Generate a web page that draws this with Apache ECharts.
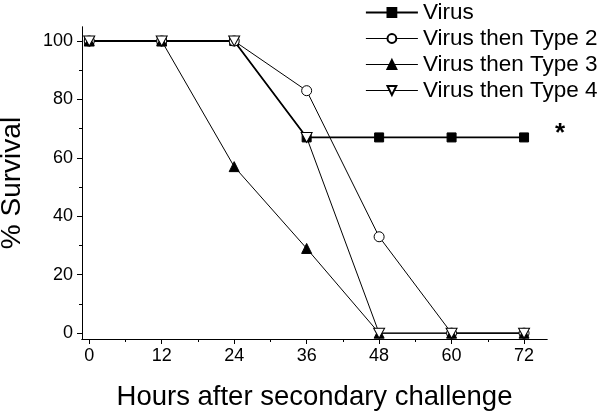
<!DOCTYPE html>
<html>
<head>
<meta charset="utf-8">
<script src="https://cdn.jsdelivr.net/npm/echarts@6/dist/echarts.min.js"></script>
<style>
  html, body { margin: 0; padding: 0; background: #fff; }
  #chart { width: 602px; height: 413px; }
</style>
</head>
<body>
<div id="chart"></div>
<script>
// Survival data
const hours = [0, 12, 24, 36, 48, 60, 72];
const virus = [100, 100, 100, 67, 67, 67, 67];
const virusType2 = [100, 100, 100, 83, 33, 0, 0];
const virusType3 = [100, 100, 57, 29, 0, 0, 0];
const virusType4 = [100, 100, 100, 67, 0, 0, 0];
const seriesNames = ["Virus", "Virus then Type 2", "Virus then Type 3", "Virus then Type 4"];
const lineWidths = [1.8, 1, 1, 1];
const xMajor = [0, 12, 24, 36, 48, 60, 72];
const xMinor = [6, 18, 30, 42, 54, 66];
const yMajor = [0, 20, 40, 60, 80, 100];
const yMinor = [10, 30, 50, 70, 90];

const fontFamily = "Liberation Sans, Arial, sans-serif";
const triDown = "path://M0,0 L10,0 L5,9 Z";

function pairs(values) {
	return hours.map((h, i) => [h, values[i]]);
}

function lineSeries(idx, values, symbol, fill, extra) {
	return Object.assign({
		name: seriesNames[idx],
		type: "line",
		data: pairs(values),
		symbol: symbol,
		symbolSize: 10,
		showAllSymbol: true,
		lineStyle: { color: "#000", width: lineWidths[idx] },
		itemStyle: { color: fill, borderColor: "#000", borderWidth: 1 },
		emphasis: { disabled: true },
		z: 3,
	}, extra || {});
}

function axisCommon(min, max) {
	return {
		type: "value",
		min: min,
		max: max,
		splitLine: { show: false },
		axisLine: { show: true, onZero: false, lineStyle: { color: "#000", width: 1 } },
	};
}

const chartDom = document.getElementById("chart");
const myChart = echarts.init(chartDom);

const option = {
	animation: false,
	backgroundColor: "#fff",
	textStyle: { fontFamily: fontFamily, color: "#000" },
	grid: { left: 82, right: 55, top: 27, bottom: 74, outerBoundsMode: "none", containLabel: false },
	legend: {
		orient: "vertical",
		left: 360,
		top: -4,
		itemWidth: 52,
		itemHeight: 11,
		itemGap: 3,
		textStyle: { fontSize: 22.5, color: "#000", fontFamily: fontFamily },
		data: seriesNames.map((n, i) => ({ name: n, lineStyle: { width: lineWidths[i] } })),
		selectedMode: false,
	},
	xAxis: [
		Object.assign(axisCommon(-1.2, 75.8), {
			name: "Hours after secondary challenge",
			nameLocation: "middle",
			nameGap: 44,
			nameTextStyle: { fontSize: 27.5, color: "#000" },
			axisTick: { show: true, inside: false, length: 5, customValues: xMajor, lineStyle: { color: "#000" } },
			axisLabel: { customValues: xMajor, fontSize: 18, color: "#000", margin: 8 },
		}),
		Object.assign(axisCommon(-1.2, 75.8), {
			gridIndex: 0,
			position: "bottom",
			axisTick: { show: true, inside: false, length: 3, customValues: xMinor, lineStyle: { color: "#000" } },
			axisLabel: { show: false },
		}),
	],
	yAxis: [
		Object.assign(axisCommon(-2, 104.8), {
			name: "% Survival",
			nameLocation: "middle",
			nameGap: 56,
			nameTextStyle: { fontSize: 28, color: "#000" },
			axisTick: { show: true, inside: false, length: 5, customValues: yMajor, lineStyle: { color: "#000" } },
			axisLabel: { customValues: yMajor, fontSize: 18, color: "#000", margin: 9 },
		}),
		Object.assign(axisCommon(-2, 104.8), {
			gridIndex: 0,
			position: "left",
			axisTick: { show: true, inside: false, length: 3, customValues: yMinor, lineStyle: { color: "#000" } },
			axisLabel: { show: false },
		}),
	],
	series: [
		lineSeries(0, virus, "rect", "#000", {
			symbolSize: 9,
			label: {
				show: true,
				position: "right",
				distance: 26,
				offset: [0, -4],
				fontSize: 26,
				fontWeight: "bold",
				color: "#000",
				formatter: (p) => (p.dataIndex === hours.length - 1 ? "*" : ""),
			},
		}),
		lineSeries(1, virusType2, "circle", "#fff"),
		lineSeries(2, virusType3, "triangle", "#000"),
		lineSeries(3, virusType4, triDown, "#fff", { symbolSize: [11, 10] }),
	],
};

myChart.setOption(option);
</script>
</body>
</html>
